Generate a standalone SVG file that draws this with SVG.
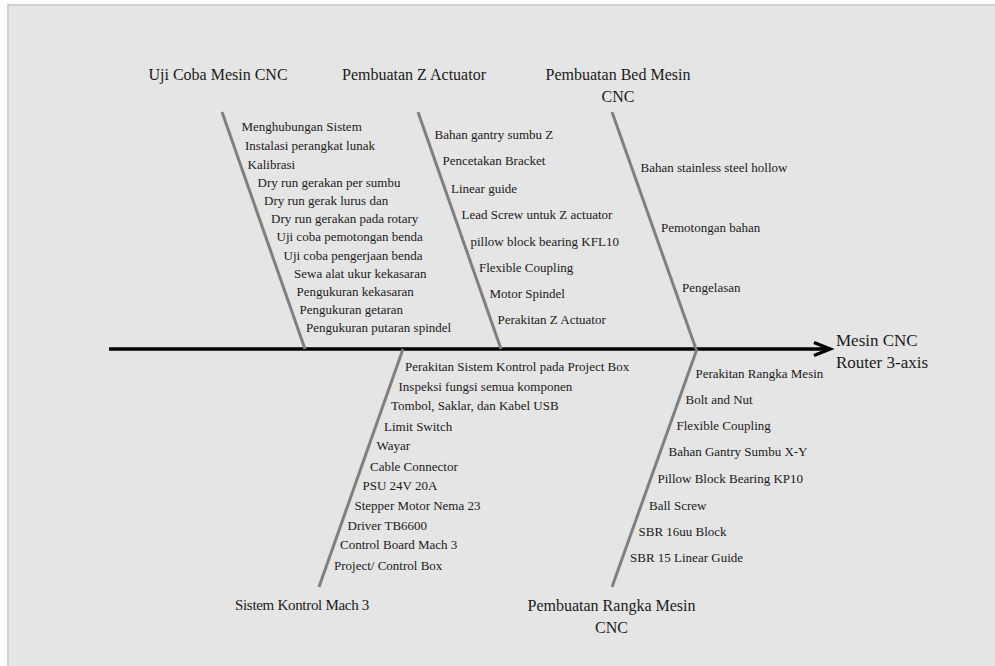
<svg xmlns="http://www.w3.org/2000/svg" width="995" height="666" viewBox="0 0 995 666">
<style>
.t{font-family:"Liberation Serif","Times New Roman",serif;fill:#1a1a1a}
.h{font-size:16px}
.s{font-size:13px}
.m{font-size:17px}
.bone{stroke:#808080;stroke-width:3;fill:none;stroke-linecap:butt}
.spine{stroke:#000;stroke-width:3.5;fill:none}
</style>
<rect x="8" y="5" width="1000" height="680" fill="#e5e5e5" stroke="#d0d0d0" stroke-width="2"/>
<g id="connectors">
<line class="spine" x1="109" y1="349" x2="828" y2="349"/>
<path d="M814,342.5 L830,349 L814,355.5" stroke="#000" stroke-width="3.5" fill="none"/>
<line class="bone" x1="222" y1="112" x2="305" y2="349"/>
<line class="bone" x1="418" y1="112" x2="501" y2="349"/>
<line class="bone" x1="612" y1="112" x2="696" y2="349"/>
<line class="bone" x1="403" y1="349" x2="319" y2="587"/>
<line class="bone" x1="697" y1="349" x2="612" y2="587"/>
</g>
<g id="effect">
<text class="t m" x="836" y="346">Mesin CNC</text>
<text class="t m" x="836" y="368">Router 3-axis</text>
</g>
<g id="uji-coba">
<text class="t h" x="218" y="80" text-anchor="middle">Uji Coba Mesin CNC</text>
<text class="t s" x="241.5" y="131">Menghubungan Sistem</text>
<text class="t s" x="245" y="149.5">Instalasi perangkat lunak</text>
<text class="t s" x="247.5" y="169">Kalibrasi</text>
<text class="t s" x="257.5" y="186.5">Dry run gerakan per sumbu</text>
<text class="t s" x="264" y="205">Dry run gerak lurus dan</text>
<text class="t s" x="271" y="222.5">Dry run gerakan pada rotary</text>
<text class="t s" x="276.5" y="241">Uji coba pemotongan benda</text>
<text class="t s" x="283.5" y="259.5">Uji coba pengerjaan benda</text>
<text class="t s" x="294" y="277.5">Sewa alat ukur kekasaran</text>
<text class="t s" x="296.5" y="295.5">Pengukuran kekasaran</text>
<text class="t s" x="299.5" y="314">Pengukuran getaran</text>
<text class="t s" x="306" y="331.5">Pengukuran putaran spindel</text>
</g>
<g id="z-actuator">
<text class="t h" x="414" y="80" text-anchor="middle">Pembuatan Z Actuator</text>
<text class="t s" x="434.5" y="139">Bahan gantry sumbu Z</text>
<text class="t s" x="442.5" y="165">Pencetakan Bracket</text>
<text class="t s" x="451" y="193">Linear guide</text>
<text class="t s" x="461.5" y="219">Lead Screw untuk Z actuator</text>
<text class="t s" x="470.5" y="245.5">pillow block bearing KFL10</text>
<text class="t s" x="479" y="271.5">Flexible Coupling</text>
<text class="t s" x="489.5" y="298">Motor Spindel</text>
<text class="t s" x="497.5" y="324">Perakitan Z Actuator</text>
</g>
<g id="bed-mesin">
<text class="t h" x="618" y="80" text-anchor="middle">Pembuatan Bed Mesin</text>
<text class="t h" x="618" y="102" text-anchor="middle">CNC</text>
<text class="t s" x="640.5" y="172">Bahan stainless steel hollow</text>
<text class="t s" x="661" y="231.5">Pemotongan bahan</text>
<text class="t s" x="682" y="292">Pengelasan</text>
</g>
<g id="sistem-kontrol">
<text class="t" x="302" y="610" text-anchor="middle" font-size="15" letter-spacing="-0.3">Sistem Kontrol Mach 3</text>
<text class="t s" x="405" y="370.5">Perakitan Sistem Kontrol pada Project Box</text>
<text class="t s" x="398.5" y="390.5">Inspeksi fungsi semua komponen</text>
<text class="t s" x="391" y="409.5">Tombol, Saklar, dan Kabel USB</text>
<text class="t s" x="384" y="430.5">Limit Switch</text>
<text class="t s" x="376.5" y="450">Wayar</text>
<text class="t s" x="370" y="470.5">Cable Connector</text>
<text class="t s" x="362.5" y="489.5">PSU 24V 20A</text>
<text class="t s" x="354.5" y="510">Stepper Motor Nema 23</text>
<text class="t s" x="347.5" y="530">Driver TB6600</text>
<text class="t s" x="340" y="549">Control Board Mach 3</text>
<text class="t s" x="334" y="570">Project/ Control Box</text>
</g>
<g id="rangka-mesin">
<text class="t h" x="611.5" y="611" text-anchor="middle">Pembuatan Rangka Mesin</text>
<text class="t h" x="611.5" y="633" text-anchor="middle">CNC</text>
<text class="t s" x="695.5" y="377.5">Perakitan Rangka Mesin</text>
<text class="t s" x="685.5" y="404">Bolt and Nut</text>
<text class="t s" x="676.5" y="430">Flexible Coupling</text>
<text class="t s" x="668.5" y="456">Bahan Gantry Sumbu X-Y</text>
<text class="t s" x="657.5" y="482.5">Pillow Block Bearing KP10</text>
<text class="t s" x="649" y="510">Ball Screw</text>
<text class="t s" x="638.5" y="536">SBR 16uu Block</text>
<text class="t s" x="630" y="562">SBR 15 Linear Guide</text>
</g>
</svg>
